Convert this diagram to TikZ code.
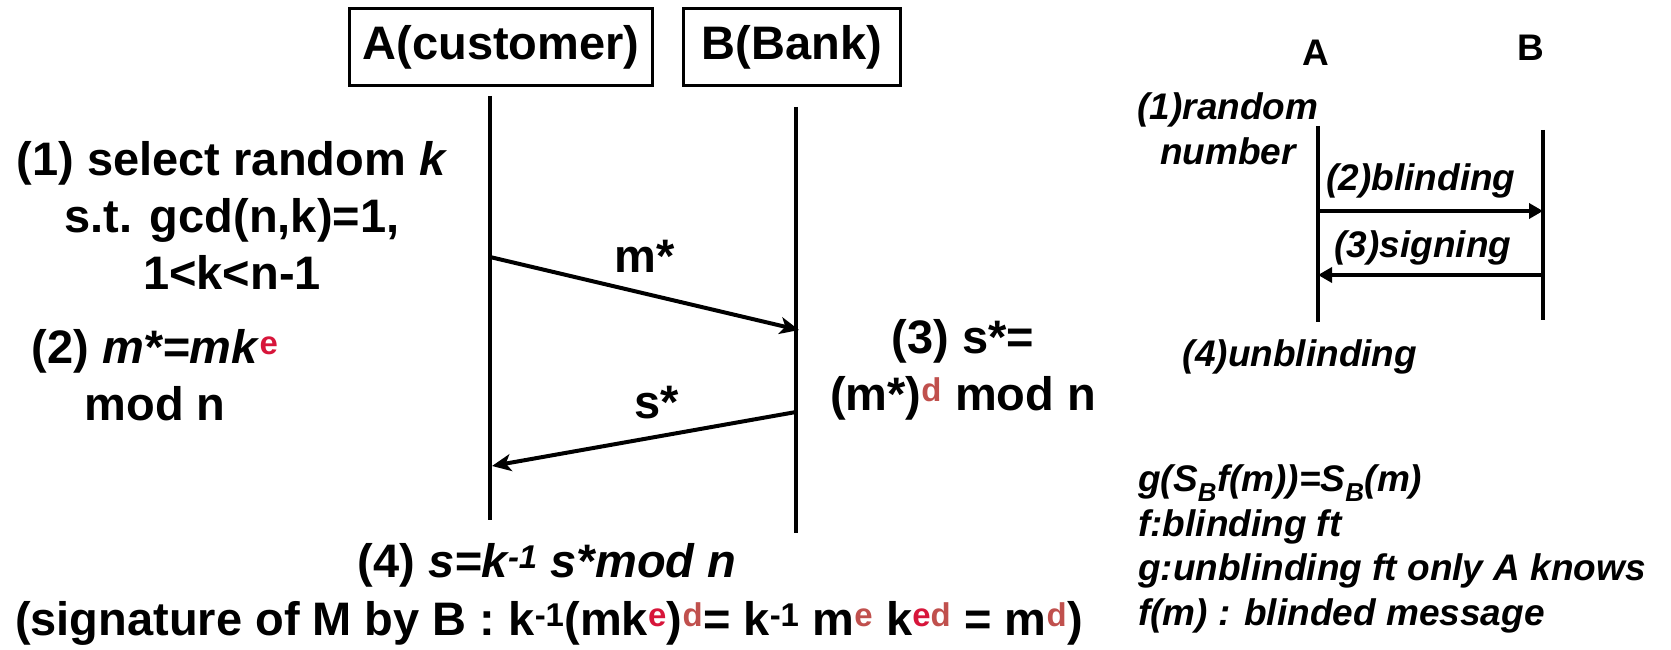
\documentclass[tikz,border=0pt]{standalone}
\usepackage{fontspec}
\setmainfont{Liberation Sans}
\usetikzlibrary{arrows.meta}
\definecolor{cr}{HTML}{D7153A}
\definecolor{br}{HTML}{C0504D}
\newcommand\upx[1]{\textsuperscript{#1}}
\begin{document}
\begin{tikzpicture}[x=1pt,y=-1pt,
  big/.style={font=\fontsize{47}{57}\selectfont\bfseries, inner sep=0pt, align=center},
  small/.style={font=\fontsize{37}{44.5}\selectfont\bfseries\itshape, inner sep=0pt, align=center},
  actor/.style={draw, line width=3.5pt, minimum height=77pt, inner sep=6pt, font=\fontsize{47}{57}\selectfont\bfseries},
  life/.style={line width=3.5pt},
  msg/.style={line width=4pt, -{Stealth[length=19pt,width=17pt,inset=5pt]}},
  smsg/.style={line width=3.5pt, -{Triangle[length=14pt,width=15pt]}}]
\useasboundingbox (0,0) rectangle (1671,650);
% actors
\node[actor, minimum width=303pt] (A) at (501,47) {A(customer)};
\node[actor, minimum width=217pt] (B) at (792,47) {B(Bank)};
% lifelines
\coordinate (a0) at (490,96);  \coordinate (a1) at (490,520);
\coordinate (b0) at (796,107); \coordinate (b1) at (796,533);
\draw[life] (a0) -- (a1);
\draw[life] (b0) -- (b1);
% messages
\coordinate (m0) at (490,257); \coordinate (m1) at (799,330);
\coordinate (s0) at (796,412); \coordinate (s1) at (492,466);
\draw[msg] (m0) -- (m1);
\draw[msg] (s0) -- (s1);
\node[big] (ml) at (645,256) {m*};
\node[big] (sl) at (657,403) {s*};
% step texts
\node[big] (t1) at (232,215) {(1) select random \textit{k}\\s.t. gcd(n,k)=1,\\1<k<n-1};
\node[big] (t2) at (155,375) {(2) \textit{m*=mk}\upx{\color{cr}e}\\mod n};
\node[big] (t3) at (963,370) {(3) s*=\\(m*)\upx{\color{br}d} mod n};
\node[big] (t4) at (547,565) {(4) \textit{s=k\upx{-1} s*mod n}};
\node[big] (t5) at (549,623) {(signature of M by B : k\upx{-1}(mk\upx{\color{cr}e})\upx{\color{br}d}= k\upx{-1} m\upx{\color{br}e} k\upx{\color{cr}e\color{br}d} = m\upx{\color{br}d})};
% small diagram
\node[small, font=\fontsize{37}{44.5}\selectfont\bfseries] (sA) at (1316,53) {A};
\node[small, font=\fontsize{37}{44.5}\selectfont\bfseries] (sB) at (1531,48) {B};
\coordinate (sa0) at (1318,126); \coordinate (sa1) at (1318,322);
\coordinate (sb0) at (1543,130); \coordinate (sb1) at (1543,320);
\draw[life] (sa0) -- (sa1);
\draw[life] (sb0) -- (sb1);
\coordinate (p0) at (1318,211); \coordinate (p1) at (1543,211);
\coordinate (q0) at (1543,275); \coordinate (q1) at (1318,275);
\draw[smsg] (p0) -- (p1);
\draw[smsg] (q0) -- (q1);
\node[small] (r1) at (1228,129) {(1)random\\number};
\node[small] (r2) at (1421,181) {(2)blinding};
\node[small] (r3) at (1423,248) {(3)signing};
\node[small] (r4) at (1300,357) {(4)unblinding};
\node[small, align=left, anchor=west] (leg) at (1138,549) {g(S\textsubscript{B}f(m))=S\textsubscript{B}(m)\\f:blinding ft\\g:unblinding ft only A knows\\f(m) : blinded message};
\end{tikzpicture}
\end{document}
